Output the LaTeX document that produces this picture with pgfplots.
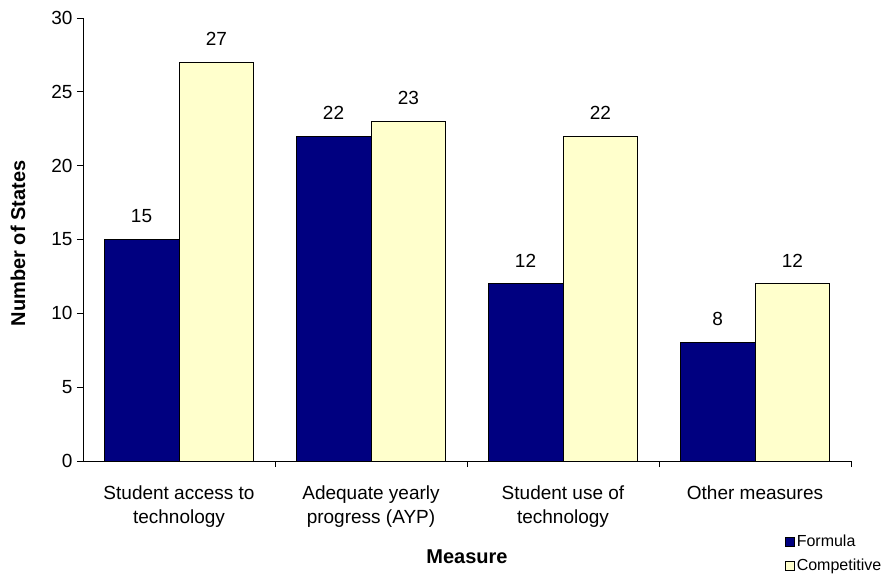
\documentclass[border=0pt]{standalone}
\usepackage{pgfplots}
\pgfplotsset{compat=1.18}
\usepackage{fontspec}
\setmainfont{Liberation Sans}
\usetikzlibrary{calc}
\definecolor{navyb}{RGB}{0,0,128}
\definecolor{paley}{RGB}{255,255,204}
\begin{document}
\begin{tikzpicture}
\begin{axis}[
  name=ax,
  scale only axis,
  width=768bp, height=443bp,
  xmin=-0.5, xmax=3.5, ymin=0, ymax=30,
  axis x line=bottom, axis y line=left,
  axis line style={-, black, line width=0.8pt},
  ytick={0,5,...,30},
  xtick={0,1,2,3},
  xticklabels={{Student access to\\technology},{Adequate yearly\\progress (AYP)},{Student use of\\technology},{Other measures}},
  xticklabel style={align=center, font=\fontsize{19bp}{24bp}\selectfont, yshift=-15bp},
  yticklabel style={font=\fontsize{19bp}{22bp}\selectfont, xshift=-1bp},
  major x tick style={draw=none},
  minor xtick={0.5,1.5,2.5,3.5},
  minor tick length=6bp,
  major tick length=6bp,
  tick style={black, line width=0.8pt},
  tick align=outside,
  xlabel={\textbf{Measure}},
  ylabel={\textbf{Number of States}},
  xlabel style={font=\fontsize{20bp}{22bp}\selectfont, at={(axis description cs:0.5,-0.2167)}, anchor=center},
  ylabel style={font=\fontsize{20bp}{22bp}\selectfont, at={(axis description cs:-0.0846,0.491)}, anchor=center},
  ybar, bar width=0.39,
  nodes near coords,
  every node near coord/.append style={font=\fontsize{19bp}{22bp}\selectfont, yshift=13bp},
  legend style={at={(rel axis cs:0.914,-0.162)}, anchor=north west, draw=none, fill=none,
    font=\fontsize{16bp}{18bp}\selectfont, row sep=7bp, inner sep=0pt, nodes={inner sep=2bp}},
  legend cell align=left,
  legend image code/.code={\draw[#1, line width=0.6pt] (0bp,-4.5bp) rectangle (9bp,4.5bp);},
  /pgf/number format/assume math mode=true,
]
\addplot[fill=navyb, draw=black, line width=0.8pt, bar shift=-0.195] coordinates {(0,15) (1,22) (2,12) (3,8)};
\addplot[fill=paley, draw=black, line width=0.8pt, bar shift=0.195] coordinates {(0,27) (1,23) (2,22) (3,12)};
\legend{Formula, Competitive}
\end{axis}
\path[use as bounding box] ($(ax.south west)+(-83bp,-118bp)$) rectangle ($(ax.north east)+(35bp,18bp)$);
\end{tikzpicture}
\end{document}
